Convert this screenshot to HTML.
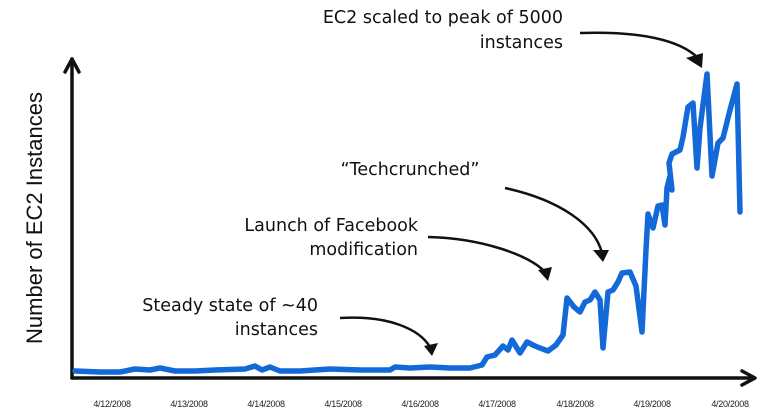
<!DOCTYPE html>
<html><head><meta charset="utf-8"><style>
html,body{margin:0;padding:0;background:#fff;width:770px;height:416px;overflow:hidden}
svg{display:block}
.a{font-family:"DejaVu Sans","Liberation Sans",sans-serif;font-size:17.5px;fill:#111}
.t{font-family:"Liberation Sans",sans-serif;font-size:9px;fill:#222;letter-spacing:-0.3px}
</style></head><body>
<svg width="770" height="416" viewBox="0 0 770 416" xmlns="http://www.w3.org/2000/svg">
<g stroke="#111" stroke-width="3.5" fill="none" stroke-linecap="round" stroke-linejoin="round">
<line x1="72" y1="378" x2="72" y2="59"/>
<polyline points="65,72 72,59 79,72"/>
<line x1="72" y1="378" x2="754" y2="378"/>
<polyline points="742,371 755,378 742,385"/>
</g>
<polyline fill="none" stroke="#1469d8" stroke-width="5.5" stroke-linejoin="round" stroke-linecap="round"
points="75,371 100,372 120,372 135,369 150,370 160,368 175,371 195,371 215,370 245,369 255,366 262,370 270,367 280,371 300,371 330,369 360,370 390,370 395,367 410,368 430,367 450,368 470,368 482,365 487,357 495,355 503,346 508,350 512,340 520,353 527,342 535,346 540,348 548,351 556,345 563,335 567,298 574,307 580,312 585,302 590,300 595,292 600,300 603,348 608,292 613,290 618,282 622,273 630,272 636,286 642,332 646,250 648,214 653,228 658,206 662,205 665,225 667,188 670,176 672,190 669,163 672,154 680,150 683,137 688,107 693,103 697,168 700,128 707,74 712,176 718,143 723,138 730,110 737,84 740,212"/>
<g stroke="#111" stroke-width="2.5" fill="none">
<path d="M340,318 C390,315 420,330 430,347"/>
<path d="M428,237 C480,238 530,255 545,272"/>
<path d="M505,188 C560,200 595,225 602,253"/>
<path d="M580,33 C640,31 680,40 698,58"/>
</g>
<g fill="#111">
<polygon points="424,346 438,343 432,356"/>
<polygon points="538,270 552,267 548,281"/>
<polygon points="593,250 609,250 603,262"/>
<polygon points="686,58 703,53 702,68"/>
</g>
<text class="a" x="563" y="23" text-anchor="end">EC2 scaled to peak of 5000</text>
<text class="a" x="563" y="48" text-anchor="end">instances</text>
<text class="a" x="410" y="175" text-anchor="middle">“Techcrunched”</text>
<text class="a" x="418" y="231" text-anchor="end">Launch of Facebook</text>
<text class="a" x="418" y="255" text-anchor="end">modification</text>
<text class="a" x="318" y="311" text-anchor="end">Steady state of ~40</text>
<text class="a" x="318" y="335" text-anchor="end">instances</text>
<text x="42" y="218" transform="rotate(-90 42 218)" text-anchor="middle" font-family="'Liberation Sans',sans-serif" font-size="22" fill="#111">Number of EC2 Instances</text>
<g class="t" text-anchor="middle">
<text x="112" y="407">4/12/2008</text>
<text x="189" y="407">4/13/2008</text>
<text x="266" y="407">4/14/2008</text>
<text x="343" y="407">4/15/2008</text>
<text x="420" y="407">4/16/2008</text>
<text x="497" y="407">4/17/2008</text>
<text x="575" y="407">4/18/2008</text>
<text x="652" y="407">4/19/2008</text>
<text x="730" y="407">4/20/2008</text>
</g>
</svg>
</body></html>
